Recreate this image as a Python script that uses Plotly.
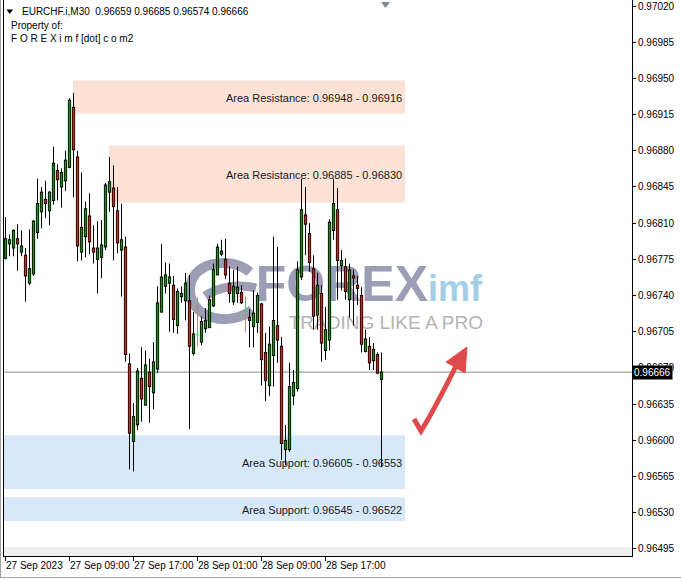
import plotly.graph_objects as go

# ---------------- data ----------------
symbol = "EURCHF.i,M30"
owner_lines = ["Property of:", "F O R E X i m f [dot] c o m2"]

opens = [0.96776, 0.96790, 0.96786, 0.96795, 0.96782, 0.96779, 0.96752, 0.96761, 0.96801, 0.96821,
         0.96833, 0.96822, 0.96832, 0.96861, 0.96845, 0.96851, 0.96864, 0.96922, 0.96874, 0.96782,
         0.96797, 0.96817, 0.96786, 0.96775, 0.96777, 0.96787, 0.96840, 0.96844, 0.96822, 0.96784,
         0.96787, 0.96674, 0.96599, 0.96615, 0.96660, 0.96634, 0.96666, 0.96646, 0.96669, 0.96724,
         0.96749, 0.96752, 0.96750, 0.96711, 0.96739, 0.96735, 0.96735, 0.96684, 0.96702, 0.96695,
         0.96708, 0.96709, 0.96730, 0.96760, 0.96780, 0.96775, 0.96752, 0.96734, 0.96742, 0.96743,
         0.96725, 0.96719, 0.96710, 0.96714, 0.96732, 0.96685, 0.96653, 0.96682, 0.96711, 0.96691,
         0.96591, 0.96591, 0.96643, 0.96650, 0.96758, 0.96818, 0.96800, 0.96766, 0.96721, 0.96742,
         0.96687, 0.96697, 0.96803, 0.96823, 0.96769, 0.96768, 0.96736, 0.96759, 0.96750, 0.96740,
         0.96686, 0.96691, 0.96677, 0.96683, 0.96659]
highs = [0.96816, 0.96799, 0.96804, 0.96809, 0.96803, 0.96786, 0.96804, 0.96813, 0.96853, 0.96845,
         0.96851, 0.96841, 0.96884, 0.96867, 0.96863, 0.96880, 0.96931, 0.96936, 0.96880, 0.96859,
         0.96831, 0.96839, 0.96808, 0.96812, 0.96813, 0.96849, 0.96874, 0.96866, 0.96845, 0.96829,
         0.96797, 0.96684, 0.96636, 0.96670, 0.96690, 0.96687, 0.96679, 0.96695, 0.96749, 0.96790,
         0.96772, 0.96771, 0.96759, 0.96747, 0.96749, 0.96762, 0.96760, 0.96724, 0.96738, 0.96720,
         0.96728, 0.96740, 0.96771, 0.96790, 0.96794, 0.96795, 0.96768, 0.96765, 0.96768, 0.96750,
         0.96739, 0.96727, 0.96745, 0.96743, 0.96733, 0.96704, 0.96710, 0.96797, 0.96787, 0.96700,
         0.96615, 0.96675, 0.96668, 0.96773, 0.96853, 0.96845, 0.96810, 0.96779, 0.96762, 0.96750,
         0.96729, 0.96814, 0.96853, 0.96844, 0.96784, 0.96776, 0.96771, 0.96765, 0.96759, 0.96748,
         0.96707, 0.96700, 0.96694, 0.96685, 0.96685]
lows = [0.96775, 0.96778, 0.96778, 0.96764, 0.96778, 0.96734, 0.96750, 0.96759, 0.96795, 0.96805,
        0.96815, 0.96808, 0.96828, 0.96832, 0.96825, 0.96841, 0.96863, 0.96835, 0.96773, 0.96774,
        0.96777, 0.96780, 0.96771, 0.96742, 0.96757, 0.96784, 0.96821, 0.96774, 0.96781, 0.96739,
        0.96676, 0.96572, 0.96570, 0.96610, 0.96618, 0.96634, 0.96617, 0.96630, 0.96665, 0.96724,
        0.96742, 0.96705, 0.96704, 0.96703, 0.96733, 0.96716, 0.96611, 0.96682, 0.96691, 0.96692,
        0.96704, 0.96709, 0.96729, 0.96760, 0.96778, 0.96756, 0.96733, 0.96731, 0.96733, 0.96732,
        0.96705, 0.96690, 0.96690, 0.96704, 0.96653, 0.96638, 0.96643, 0.96652, 0.96675, 0.96581,
        0.96576, 0.96589, 0.96634, 0.96647, 0.96755, 0.96779, 0.96763, 0.96707, 0.96707, 0.96676,
        0.96678, 0.96687, 0.96794, 0.96736, 0.96745, 0.96736, 0.96719, 0.96711, 0.96731, 0.96685,
        0.96685, 0.96668, 0.96668, 0.96664, 0.96574]
closes = [0.96795, 0.96794, 0.96803, 0.96790, 0.96788, 0.96759, 0.96766, 0.96812, 0.96829, 0.96840,
          0.96829, 0.96840, 0.96868, 0.96852, 0.96859, 0.96871, 0.96929, 0.96881, 0.96788, 0.96806,
          0.96824, 0.96792, 0.96782, 0.96786, 0.96789, 0.96847, 0.96850, 0.96826, 0.96791, 0.96794,
          0.96683, 0.96607, 0.96623, 0.96667, 0.96640, 0.96673, 0.96652, 0.96676, 0.96733, 0.96758,
          0.96760, 0.96758, 0.96717, 0.96744, 0.96742, 0.96752, 0.96691, 0.96703, 0.96702, 0.96715,
          0.96716, 0.96736, 0.96765, 0.96787, 0.96783, 0.96760, 0.96742, 0.96749, 0.96748, 0.96733,
          0.96725, 0.96716, 0.96723, 0.96740, 0.96678, 0.96658, 0.96693, 0.96716, 0.96697, 0.96597,
          0.96600, 0.96652, 0.96656, 0.96765, 0.96823, 0.96809, 0.96772, 0.96720, 0.96750, 0.96694,
          0.96707, 0.96811, 0.96829, 0.96774, 0.96774, 0.96744, 0.96765, 0.96757, 0.96747, 0.96693,
          0.96698, 0.96675, 0.96688, 0.96665, 0.96666]

time_tick_index = [0, 16, 32, 48, 64, 80]
time_tick_labels = ["27 Sep 2023", "27 Sep 09:00", "27 Sep 17:00",
                    "28 Sep 01:00", "28 Sep 09:00", "28 Sep 17:00"]
price_ticks = [0.96495, 0.96530, 0.96565, 0.96600, 0.96635, 0.96670, 0.96705, 0.96740,
               0.96775, 0.96810, 0.96845, 0.96880, 0.96915, 0.96950, 0.96985, 0.97020]

resistance_zones = [(0.96948, 0.96916), (0.96885, 0.96830)]
support_zones = [(0.96605, 0.96553), (0.96545, 0.96522)]

# ---------------- layout geometry / style ----------------
W, H = 681, 579
PL, PR, PT, PB = 4, 632, 0, 556          # plot area in px
Y_TOP, Y_BOT = 0.970258, 0.964882
X0 = -0.375
X1 = X0 + (PR - PL) / 4.0
PX_Y = (Y_TOP - Y_BOT) / (PB - PT)       # price per pixel

GREEN = "#0a9a0a"
RED = "#f01c1c"
LIME = "#00ff00"
RES_FILL = "#fbe2d5"
SUP_FILL = "#d7e8f8"
SMALL = "Liberation Sans, Arial, sans-serif"
REG = "Liberation Sans, Arial, sans-serif"
LOGO = "#9d9db5"


def px(x):
    return (x - PL) / (PR - PL)


def py(y):
    return (PB - y) / (PB - PT)


def dx(p):
    return X0 + (p - PL) / 4.0


def dy(p):
    return Y_TOP - (p - PT) * PX_Y


fig = go.Figure()

# ---- watermark (drawn first, below candles) ----
fig.add_trace(go.Scatter(x=[dx(428)], y=[dy(288)], mode="text", text=["FOREX"],
                         textposition="middle left", hoverinfo="skip",
                         textfont=dict(family="Liberation Sans, Arial", size=50, color=LOGO, weight="bold")))
fig.add_trace(go.Scatter(x=[dx(428)], y=[dy(292)], mode="text", text=["imf"],
                         textposition="middle right", hoverinfo="skip",
                         textfont=dict(family="Liberation Sans, Arial", size=36, color="#a2cfe5", weight="bold")))
fig.add_trace(go.Scatter(x=[dx(483)], y=[dy(324)], mode="text", text=["TRADING LIKE A PRO"],
                         textposition="middle left", hoverinfo="skip",
                         textfont=dict(family="Liberation Sans, Arial", size=19, color="#b4b4b4")))

# ---- candles ----
wick_x, wick_y = [], []
doji_x, doji_y = [], []
edge_x, edge_y = [], []
up_x, up_y, dn_x, dn_y = [], [], [], []
for i, (o, h, l, c) in enumerate(zip(opens, highs, lows, closes)):
    if abs(o - c) < 1e-9:
        doji_x += [i, i, None, i - 0.375, i + 0.375, None]
        doji_y += [h, l, None, o, o, None]
        continue
    top, bot = max(o, c), min(o, c)
    wick_x += [i, i, None]
    wick_y += [h, l, None]
    edge_x += [i, i, None]
    edge_y += [top + 0.5 * PX_Y, bot - 0.5 * PX_Y, None]
    if top - bot > PX_Y:
        seg_y = [top - 0.5 * PX_Y, bot + 0.5 * PX_Y, None]
        if c > o:
            up_x += [i, i, None]
            up_y += seg_y
        else:
            dn_x += [i, i, None]
            dn_y += seg_y

fig.add_trace(go.Scatter(x=wick_x, y=wick_y, mode="lines", hoverinfo="skip",
                         line=dict(color="black", width=1)))
fig.add_trace(go.Scatter(x=edge_x, y=edge_y, mode="lines", hoverinfo="skip",
                         line=dict(color="black", width=3.2)))
fig.add_trace(go.Scatter(x=up_x, y=up_y, mode="lines", hoverinfo="skip",
                         line=dict(color=GREEN, width=1.6)))
fig.add_trace(go.Scatter(x=dn_x, y=dn_y, mode="lines", hoverinfo="skip",
                         line=dict(color=RED, width=1.6)))
fig.add_trace(go.Scatter(x=doji_x, y=doji_y, mode="lines", hoverinfo="skip",
                         line=dict(color=LIME, width=1)))

shapes = []
annotations = []

# ---- zones ----
res_left_px = [73, 109]
for (hi, lo), lx in zip(resistance_zones, res_left_px):
    shapes.append(dict(type="rect", xref="paper", yref="y", x0=px(lx), x1=px(405), y0=lo, y1=hi,
                       fillcolor=RES_FILL, line=dict(width=0), layer="below"))
    annotations.append(dict(xref="paper", yref="y", x=px(404), y=(hi + lo) / 2, yshift=-1,
                            xanchor="right", yanchor="middle", showarrow=False,
                            text=f"Area Resistance: {hi:.5f} - {lo:.5f}",
                            font=dict(family=REG, size=11, color="#1a1a1a")))
for hi, lo in support_zones:
    shapes.append(dict(type="rect", xref="paper", yref="y", x0=0, x1=px(405), y0=lo, y1=hi,
                       fillcolor=SUP_FILL, line=dict(width=0), layer="below"))
    annotations.append(dict(xref="paper", yref="y", x=px(404), y=(hi + lo) / 2, yshift=-1,
                            xanchor="right", yanchor="middle", showarrow=False,
                            text=f"Area Support: {hi:.5f} - {lo:.5f}",
                            font=dict(family=REG, size=11, color="#1a1a1a")))

# ---- logo swirl ----
shapes.append(dict(type="path", xref="paper", yref="paper",
                   path=(f"M {px(250)},{py(272)} C {px(230)},{py(255)} {px(188)},{py(262)} {px(190)},{py(292)} "
                         f"C {px(192)},{py(318)} {px(228)},{py(328)} {px(252)},{py(310)}"),
                   line=dict(color=LOGO, width=10), layer="below"))
shapes.append(dict(type="path", xref="paper", yref="paper",
                   path=(f"M {px(205)},{py(296)} C {px(220)},{py(286)} {px(240)},{py(284)} {px(256)},{py(288)}"),
                   line=dict(color=LOGO, width=9), layer="below"))

# ---- current price line ----
cur = closes[-1]
shapes.append(dict(type="line", xref="paper", yref="y", x0=0, x1=1, y0=cur, y1=cur,
                   line=dict(color="#8a8a8a", width=1), layer="below"))

# bottom light strip
shapes.append(dict(type="rect", xref="paper", yref="paper", x0=0, x1=1, y0=0, y1=py(547),
                   fillcolor="#efefef", line=dict(width=0), layer="below"))

# window frame
shapes.append(dict(type="line", xref="paper", yref="paper", x0=px(0.5), x1=px(0.5), y0=py(0), y1=py(578),
                   line=dict(color="#a0a0a0", width=1)))
shapes.append(dict(type="line", xref="paper", yref="paper", x0=px(0), x1=px(681), y0=py(577.5), y1=py(577.5),
                   line=dict(color="#a0a0a0", width=1)))

# top shift marker
shapes.append(dict(type="path", xref="paper", yref="paper",
                   path=f"M {px(381)},{py(2)} L {px(390)},{py(2)} L {px(385.5)},{py(8)} Z",
                   fillcolor="#7d8a98", line=dict(width=0)))

# header triangle
shapes.append(dict(type="path", xref="paper", yref="paper",
                   path=f"M {px(6.5)},{py(9.5)} L {px(13)},{py(9.5)} L {px(9.75)},{py(14)} Z",
                   fillcolor="black", line=dict(width=0)))

# red arrow
arrow_col = "#e04a4a"
shapes.append(dict(type="path", xref="paper", yref="paper",
                   path=(f"M {px(414)},{py(419)} L {px(421)},{py(431)} "
                         f"Q {px(433)},{py(412)} {px(456)},{py(366)}"),
                   line=dict(color=arrow_col, width=5)))
shapes.append(dict(type="path", xref="paper", yref="paper",
                   path=f"M {px(467)},{py(347)} L {px(446)},{py(362)} L {px(465)},{py(373)} Z",
                   fillcolor=arrow_col, line=dict(color=arrow_col, width=1)))

# ---- header text ----
annotations.append(dict(xref="paper", yref="paper", x=px(20), y=py(12), xanchor="left", yanchor="middle",
                        showarrow=False,
                        text=f"{symbol}  {opens[-1]:.5f} {highs[-1]:.5f} {lows[-1]:.5f} {closes[-1]:.5f}",
                        font=dict(family=SMALL, size=10, color="black")))
for k, line in enumerate(owner_lines):
    annotations.append(dict(xref="paper", yref="paper", x=px(9), y=py(25 + 13 * k), xanchor="left",
                            yanchor="middle", showarrow=False, text=line,
                            font=dict(family=SMALL, size=10, color="black")))

# ---- time labels ----
for idx, lab in zip(time_tick_index, time_tick_labels):
    annotations.append(dict(xref="x", yref="paper", x=idx, y=py(565), xanchor="left", yanchor="middle",
                            xshift=-2, showarrow=False, text=lab,
                            font=dict(family=SMALL, size=10, color="black")))

# ---- current price label ----
annotations.append(dict(xref="paper", yref="y", x=1, y=cur, xanchor="left", yanchor="middle",
                        showarrow=False, text=f"{cur:.5f}", bgcolor="black", borderpad=1,
                        xshift=0, font=dict(family=SMALL, size=10, color="white")))

fig.update_layout(
    width=W, height=H,
    margin=dict(l=PL, r=W - PR, t=PT, b=H - PB, pad=0),
    paper_bgcolor="white", plot_bgcolor="white",
    showlegend=False,
    shapes=shapes, annotations=annotations,
    xaxis=dict(range=[X0, X1], showgrid=False, zeroline=False, showline=True, linecolor="black",
               linewidth=1, ticks="outside", ticklen=4, tickcolor="black", tickvals=time_tick_index,
               showticklabels=False, fixedrange=True),
    yaxis=dict(range=[Y_BOT, Y_TOP], side="right", showgrid=False, zeroline=False, showline=True,
               linecolor="black", linewidth=1, mirror=True, ticks="outside", ticklen=3,
               tickcolor="black", tickvals=price_ticks, tickformat=".5f",
               tickfont=dict(family=SMALL, size=10, color="black"), fixedrange=True),
)

fig.write_html("out.html", config={"displayModeBar": False},
               post_script="document.body.style.margin='0';document.body.style.padding='0';")
